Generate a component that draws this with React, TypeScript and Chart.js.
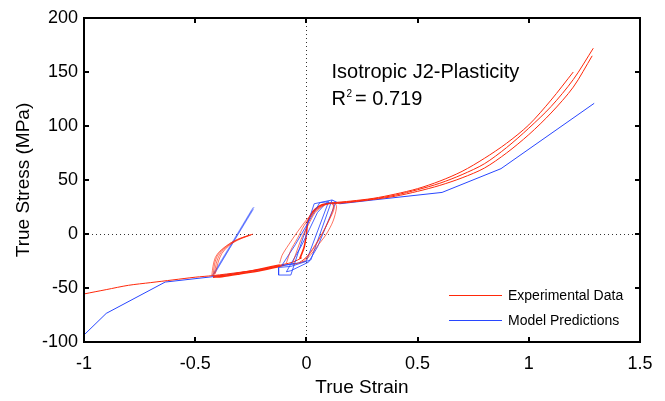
import React, { useEffect, useRef } from "react";
import { Chart, registerables } from "chart.js";

Chart.register(...registerables);

type P = [number, number];

// ---- axis ticks ----
const xTicks = [-1, -0.5, 0, 0.5, 1, 1.5];
const yTicks = [-100, -50, 0, 50, 100, 150, 200];

// ---- Experimental data (red) ----
const expTensionA: P[] = [
  [0.12, 29], [0.2, 30.5], [0.3, 33], [0.4, 37], [0.5, 42], [0.6, 49], [0.7, 58],
  [0.8, 70], [0.9, 84], [1.0, 101], [1.1, 124], [1.2, 150],
];
const expTensionB: P[] = [
  [0.12, 28.5], [0.2, 30], [0.3, 32.5], [0.4, 36], [0.5, 41], [0.6, 47], [0.7, 55],
  [0.8, 65], [0.9, 80], [1.0, 98], [1.1, 118], [1.2, 143], [1.29, 172],
];
const expTensionC: P[] = [
  [0.12, 28], [0.2, 29.5], [0.3, 32], [0.4, 35], [0.5, 39.5], [0.6, 45], [0.7, 52],
  [0.8, 61], [0.9, 75], [1.0, 92], [1.1, 112], [1.2, 136], [1.285, 165],
];
const expCompression: P[] = [
  [-0.02, -22], [-0.06, -26], [-0.1, -28], [-0.2, -32.5], [-0.3, -35.5], [-0.42, -38.5],
  [-0.5, -40], [-0.6, -42.5], [-0.7, -45], [-0.8, -47.5], [-0.9, -51.5], [-1.0, -55.5],
];
const expCompressionBand1: P[] = [
  [-0.1, -29], [-0.2, -33.5], [-0.3, -37], [-0.38, -39.5], [-0.42, -40],
];
const expCompressionBand2: P[] = [
  [-0.12, -28.5], [-0.2, -32], [-0.3, -36], [-0.38, -38.5], [-0.41, -39],
];
const expLoadPath: P[] = [
  [-0.03, -23], [-0.01, -12], [0.0, 0], [0.005, 10], [0.02, 18], [0.04, 23], [0.07, 27], [0.12, 29],
];
const expLoop1: P[] = [
  [-0.12, -27], [-0.11, -20], [-0.08, -10], [-0.04, 2], [0.0, 13], [0.04, 22], [0.08, 27],
  [0.13, 28], [0.135, 24], [0.12, 12], [0.09, 0], [0.05, -11], [0.02, -19], [-0.01, -25], [-0.06, -28],
];
const expLoop2: P[] = [
  [-0.09, -27], [-0.07, -15], [-0.04, -4], [-0.01, 8], [0.03, 19], [0.07, 26], [0.11, 28.5],
  [0.125, 24], [0.1, 12], [0.07, 0], [0.04, -10], [0.01, -19], [-0.02, -25],
];
const expLoop3: P[] = [
  [-0.06, -26], [-0.04, -14], [-0.02, -3], [0.01, 9], [0.04, 20], [0.08, 26.5], [0.12, 28.5],
  [0.115, 20], [0.09, 8], [0.06, -4], [0.03, -14], [0.0, -22], [-0.03, -26],
];
const expUnload1: P[] = [
  [-0.425, -38], [-0.42, -30], [-0.41, -22], [-0.39, -16], [-0.36, -11], [-0.33, -7], [-0.29, -3.5], [-0.24, 0],
];
const expUnload2: P[] = [
  [-0.42, -39], [-0.413, -28], [-0.4, -20], [-0.375, -14], [-0.345, -9], [-0.31, -5], [-0.27, -2], [-0.245, -0.5],
];
const expUnload3: P[] = [
  [-0.415, -38], [-0.405, -27], [-0.39, -19], [-0.365, -13], [-0.335, -8.5], [-0.3, -4.5], [-0.26, -1.5],
];
const expUnload4: P[] = [
  [-0.41, -37], [-0.395, -25], [-0.38, -18], [-0.355, -12], [-0.33, -8], [-0.29, -4], [-0.25, -1],
];

// ---- Model predictions (blue) ----
const modelTension: P[] = [
  [0.115, 31.5], [0.15, 28], [0.3, 31.5], [0.61, 38.5], [0.875, 60.5], [1.294, 121],
];
const modelCompression: P[] = [
  [-0.05, -27], [-0.2, -33], [-0.42, -39.5], [-0.635, -44.5], [-0.9, -73.5], [-1.0, -93.5],
];
const modelUnload1: P[] = [[-0.425, -39], [-0.24, 24.5]];
const modelUnload2: P[] = [[-0.42, -38], [-0.235, 25]];
const modelUnload3: P[] = [[-0.415, -37], [-0.238, 23]];
const modelUnload4: P[] = [[-0.41, -36], [-0.245, 22]];
const modelLoop1: P[] = [
  [0.115, 31.5], [0.02, -24], [-0.07, -30], [-0.125, -31], [-0.125, -38], [-0.07, -38], [0.035, 28], [0.115, 31.5],
];
const modelLoop2: P[] = [
  [0.1, 30], [0.0, -25], [-0.06, -28], [-0.11, -29], [-0.05, -10], [0.02, 15], [0.06, 29], [0.1, 30],
];
const modelLoop3: P[] = [
  [0.13, 28], [0.05, -12], [0.01, -26], [-0.07, -34], [-0.09, -35], [-0.02, -10], [0.05, 20], [0.09, 29], [0.13, 28],
];

const annotationTitle = "Isotropic J2-Plasticity";
const annotationR2 = "0.719";
const legendLabels = ["Experimental Data", "Model Predictions"];

const RED = "rgb(255,40,10)";
const RED_LIGHT = "rgba(255,40,10,0.65)";
const BLUE = "rgb(40,70,255)";
const BLUE_LIGHT = "rgba(40,70,255,0.6)";
const BLUE_LOOP = "rgba(40,70,255,0.85)";
const FONT = "'Liberation Sans', Arial, Helvetica, sans-serif";

function ds(points: P[], color: string, tension: number, width = 1) {
  return {
    data: points.map(([x, y]) => ({ x, y })),
    borderColor: color,
    backgroundColor: color,
    borderWidth: width,
    showLine: true,
    pointRadius: 0,
    pointHoverRadius: 0,
    tension,
    fill: false,
  };
}

const framePlugin = {
  id: "matlabFrame",
  beforeDatasetsDraw(chart: any) {
    const { ctx, chartArea: a, scales } = chart;
    const xs = scales.x, ys = scales.y;
    ctx.save();
    ctx.strokeStyle = "#333";
    ctx.lineWidth = 1;
    ctx.setLineDash([1, 3]);
    const x0 = Math.round(xs.getPixelForValue(0)) + 0.5;
    const y0 = Math.round(ys.getPixelForValue(0)) + 0.5;
    ctx.beginPath();
    ctx.moveTo(x0, a.top);
    ctx.lineTo(x0, a.bottom);
    ctx.moveTo(a.left, y0);
    ctx.lineTo(a.right, y0);
    ctx.stroke();
    ctx.restore();
  },
  afterDatasetsDraw(chart: any) {
    const { ctx, chartArea: a, scales } = chart;
    const xs = scales.x, ys = scales.y;
    ctx.save();
    ctx.setLineDash([]);
    ctx.strokeStyle = "#000";
    ctx.lineWidth = 2;
    ctx.strokeRect(a.left, a.top, a.right - a.left, a.bottom - a.top);
    const tl = 5;
    ctx.beginPath();
    for (const t of xTicks) {
      const px = Math.round(xs.getPixelForValue(t));
      ctx.moveTo(px, a.bottom);
      ctx.lineTo(px, a.bottom - tl);
      ctx.moveTo(px, a.top);
      ctx.lineTo(px, a.top + tl);
    }
    for (const t of yTicks) {
      const py = Math.round(ys.getPixelForValue(t));
      ctx.moveTo(a.left, py);
      ctx.lineTo(a.left + tl, py);
      ctx.moveTo(a.right, py);
      ctx.lineTo(a.right - tl, py);
    }
    ctx.stroke();

    // annotation
    ctx.fillStyle = "#000";
    ctx.textAlign = "left";
    ctx.textBaseline = "alphabetic";
    ctx.font = `20px ${FONT}`;
    const ax = xs.getPixelForValue(0.113);
    ctx.fillText(annotationTitle, ax, ys.getPixelForValue(144.5));
    const rY = ys.getPixelForValue(119.5);
    ctx.fillText("R", ax, rY);
    const rW = ctx.measureText("R").width;
    ctx.font = `10px ${FONT}`;
    ctx.fillText("2", ax + rW + 0.5, rY - 8);
    ctx.font = `20px ${FONT}`;
    ctx.fillText("= " + annotationR2, ax + rW + 9, rY);

    // legend
    const colors = [RED, BLUE];
    ctx.font = `14px ${FONT}`;
    ctx.textBaseline = "middle";
    legendLabels.forEach((lab, i) => {
      const ly = a.bottom - 47 + i * 25;
      ctx.strokeStyle = colors[i];
      ctx.lineWidth = 1;
      ctx.beginPath();
      ctx.moveTo(a.right - 191, ly + 0.5);
      ctx.lineTo(a.right - 138, ly + 0.5);
      ctx.stroke();
      ctx.fillStyle = "#000";
      ctx.fillText(lab, a.right - 132, ly + 1);
    });
    ctx.restore();
  },
};

export default function App() {
  const ref = useRef<HTMLCanvasElement | null>(null);
  useEffect(() => {
    document.body.style.margin = "0";
    document.body.style.overflow = "hidden";
    const canvas = ref.current;
    if (!canvas) return;
    const datasets = [
      ds(expUnload1, RED_LIGHT, 0.3),
      ds(expUnload2, RED_LIGHT, 0.3),
      ds(expUnload3, RED_LIGHT, 0.3),
      ds(expUnload4, RED_LIGHT, 0.3),
      ds(expLoop1, RED_LIGHT, 0.3),
      ds(expLoop2, RED_LIGHT, 0.3),
      ds(expLoop3, RED_LIGHT, 0.3),
      ds(modelUnload1, BLUE_LIGHT, 0, 0.8),
      ds(modelUnload2, BLUE_LIGHT, 0, 0.8),
      ds(modelUnload3, BLUE_LIGHT, 0, 0.8),
      ds(modelUnload4, BLUE_LIGHT, 0, 0.8),
      ds(modelLoop1, BLUE_LOOP, 0),
      ds(modelLoop2, BLUE_LOOP, 0),
      ds(modelLoop3, BLUE_LOOP, 0),
      ds(expTensionA, RED, 0.3),
      ds(expTensionB, RED, 0.3),
      ds(expTensionC, RED, 0.3),
      ds(expCompression, RED, 0.3),
      ds(expCompressionBand1, RED, 0.3, 1.6),
      ds(expCompressionBand2, RED, 0.3, 1.2),
      ds(expLoadPath, RED, 0.3, 1.6),
      ds(modelTension, BLUE, 0),
      ds(modelCompression, BLUE, 0),
    ];
    const chart = new Chart(canvas, {
      type: "scatter",
      data: { datasets } as any,
      options: {
        animation: false,
        responsive: false,
        maintainAspectRatio: false,
        devicePixelRatio: 1,
        layout: { padding: { top: 18, right: 25, left: 0, bottom: 0 } },
        plugins: { legend: { display: false }, tooltip: { enabled: false } },
        events: [],
        scales: {
          x: {
            type: "linear",
            min: -1,
            max: 1.5,
            grid: { display: false, drawTicks: false },
            border: { display: false },
            afterFit: (s: any) => { s.height = 59; },
            ticks: {
              stepSize: 0.5,
              padding: 11,
              color: "#000",
              font: { family: FONT, size: 18 },
              maxRotation: 0,
              callback: (v: any) => String(Number(v)),
            },
            title: {
              display: true,
              text: "True Strain",
              color: "#000",
              font: { family: FONT, size: 19 },
              padding: { top: 0, bottom: 2 },
            },
          },
          y: {
            type: "linear",
            min: -100,
            max: 200,
            grid: { display: false, drawTicks: false },
            border: { display: false },
            afterFit: (s: any) => { s.width = 84; },
            ticks: {
              stepSize: 50,
              padding: 6,
              color: "#000",
              font: { family: FONT, size: 18 },
              callback: (v: any) => String(Number(v)),
            },
            title: {
              display: true,
              text: "True Stress (MPa)",
              color: "#000",
              font: { family: FONT, size: 19 },
              padding: { top: 12, bottom: 0 },
            },
          },
        },
      } as any,
      plugins: [framePlugin],
    });
    return () => chart.destroy();
  }, []);
  return <canvas ref={ref} width={665} height={401} style={{ display: "block" }} />;
}
